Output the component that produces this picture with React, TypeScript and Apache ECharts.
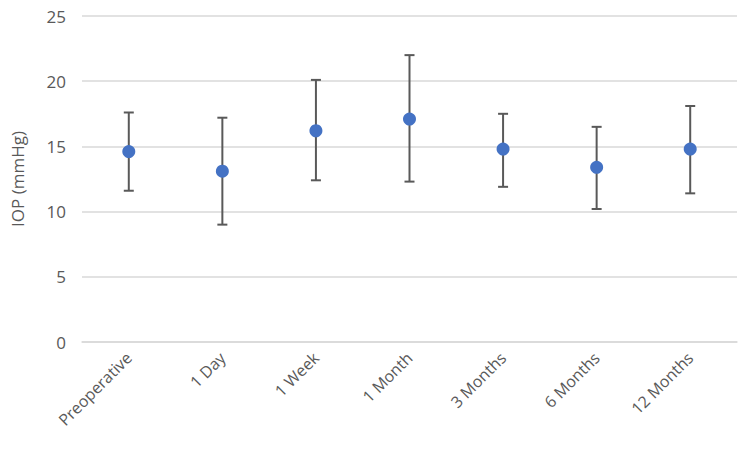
import React, { useEffect, useRef } from "react";
import * as echarts from "echarts";

const categories = ["Preoperative", "1 Day", "1 Week", "1 Month", "3 Months", "6 Months", "12 Months"];
const meanIOP = [14.6, 13.1, 16.2, 17.1, 14.8, 13.4, 14.8];
const upperIOP = [17.6, 17.2, 20.1, 22.0, 17.5, 16.5, 18.1];
const lowerIOP = [11.6, 9.0, 12.4, 12.3, 11.9, 10.2, 11.4];
const yTicks = [0, 5, 10, 15, 20, 25];

export default function App() {
  const ref = useRef<HTMLDivElement>(null);
  useEffect(() => {
    if (!ref.current) return;
    const chart = echarts.init(ref.current, null, { renderer: "svg" });
    const errData = categories.map((_, i) => [i, lowerIOP[i], upperIOP[i]]);
    chart.setOption({
      animation: false,
      grid: { left: 82, right: 12, top: 16, bottom: 107 },
      xAxis: {
        type: "category",
        data: categories,
        axisLine: { show: true, lineStyle: { color: "#d9d9d9", width: 1.5 } },
        axisTick: { show: false },
        axisLabel: {
          rotate: 45,
          color: "#595959",
          fontFamily: "Open Sans",
          fontSize: 16,
          margin: 13,
        },
      },
      yAxis: {
        type: "value",
        min: yTicks[0],
        max: yTicks[yTicks.length - 1],
        interval: 5,
        name: "IOP (mmHg)",
        nameLocation: "middle",
        nameGap: 56,
        nameTextStyle: { color: "#595959", fontFamily: "Open Sans", fontSize: 17 },
        axisLine: { show: false },
        axisTick: { show: false },
        axisLabel: { color: "#595959", fontFamily: "Open Sans", fontSize: 17, margin: 16 },
        splitLine: { lineStyle: { color: "#d9d9d9", width: 1.5 } },
      },
      series: [
        {
          type: "custom",
          data: errData,
          z: 2,
          renderItem: (params: any, api: any) => {
            const x = api.value(0);
            const lo = api.coord([x, api.value(1)]);
            const hi = api.coord([x, api.value(2)]);
            const cap = 5;
            const style = { stroke: "#595959", lineWidth: 2 };
            return {
              type: "group",
              children: [
                { type: "line", shape: { x1: lo[0], y1: lo[1], x2: hi[0], y2: hi[1] }, style },
                { type: "line", shape: { x1: hi[0] - cap, y1: hi[1], x2: hi[0] + cap, y2: hi[1] }, style },
                { type: "line", shape: { x1: lo[0] - cap, y1: lo[1], x2: lo[0] + cap, y2: lo[1] }, style },
              ],
            };
          },
        },
        {
          type: "scatter",
          data: meanIOP,
          symbolSize: 13,
          z: 3,
          itemStyle: { color: "#4472C4", opacity: 1 },
        },
      ],
    });
    return () => chart.dispose();
  }, []);
  return (
    <div
      ref={ref}
      style={{ position: "absolute", left: 0, top: 0, width: 749, height: 449, background: "#fff" }}
    />
  );
}
